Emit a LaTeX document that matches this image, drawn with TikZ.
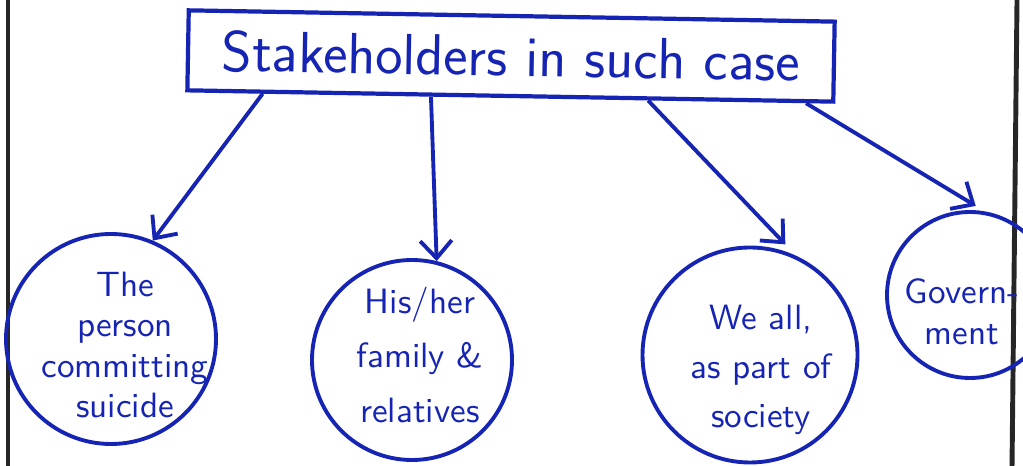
\documentclass[tikz,border=0pt]{standalone}
\usetikzlibrary{arrows.meta,calc}
\definecolor{ink}{RGB}{22,36,180}
\begin{document}
\begin{tikzpicture}[every node/.style={font=\sffamily},
  ring/.style={draw=ink,line width=1.1pt,circle},
  lbl/.style={text=ink,align=center,font=\sffamily\fontsize{10}{11.5}\selectfont},
  link/.style={line width=1.1pt,ink,-{Straight Barb[length=5pt,width=9pt]}}]
% Stakeholders sketch, 1 unit = 100 px
\useasboundingbox (0,0) rectangle (10.23,-4.66);
\draw[line width=1.4pt,black!85] (0.08,0)--(0.08,-4.66);
\draw[line width=1.4pt,black!85] (10.17,0)--(10.12,-4.66);
\node[draw=ink,line width=1.2pt,text=ink,minimum width=6.46cm,minimum height=0.8cm,rotate=-1,font=\sffamily\fontsize{16.5}{19}\selectfont] (title) at (5.11,-0.56) {Stakeholders in such case};
\node[ring,minimum size=2.1cm] (person) at (1.11,-3.39) {};
\node[ring,minimum size=2.0cm] (family) at (4.12,-3.60) {};
\node[ring,minimum size=2.15cm] (society) at (7.50,-3.55) {};
\node[ring,minimum size=1.66cm] (govt) at (9.70,-2.95) {};
\node[lbl] (personlbl) at (1.25,-3.45) {The\\person\\committing\\suicide};
\node[lbl,font=\sffamily\fontsize{10}{15.5}\selectfont] (familylbl) at (4.20,-3.55) {His/her\\family \&\\relatives};
\node[lbl,font=\sffamily\fontsize{10}{14}\selectfont] (societylbl) at (7.61,-3.70) {We all,\\as part of\\society};
\node[lbl] (govtlbl) at (9.62,-3.12) {Govern-\\ment};
\draw[link] ($(title.south west)!0.119!(title.south east)$)--(person.67);
\draw[link] ($(title.south west)!0.378!(title.south east)$)--(family.76);
\draw[link,shorten >=4.5pt] ($(title.south west)!0.712!(title.south east)$)--(society.65);
\draw[link,shorten >=3pt] ($(title.south west)!0.955!(title.south east)$)--(govt.80);
\end{tikzpicture}
\end{document}
